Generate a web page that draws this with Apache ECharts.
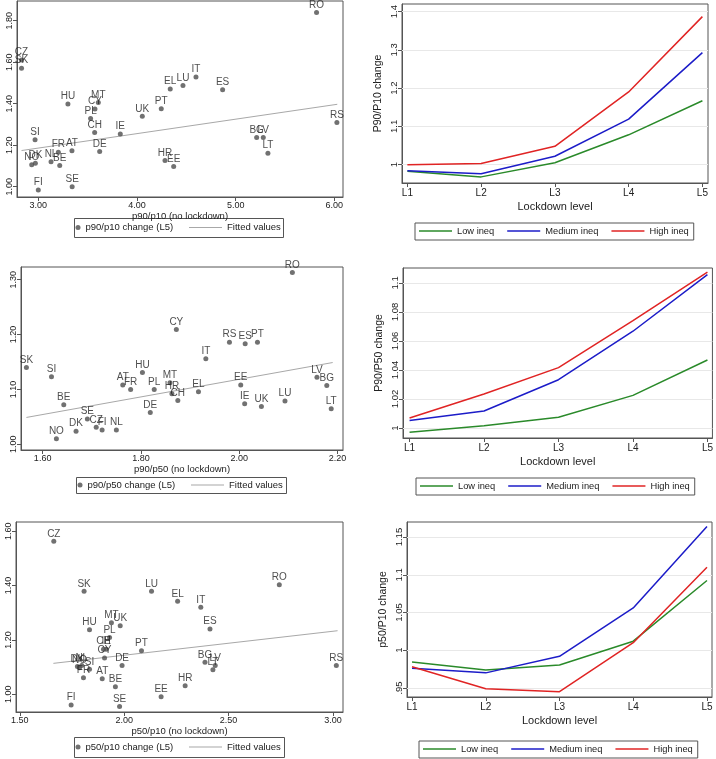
<!DOCTYPE html>
<html><head><meta charset="utf-8">
<script src="https://cdn.jsdelivr.net/npm/echarts@6/dist/echarts.min.js"></script>
<style>html,body{margin:0;padding:0;background:#fff}#c{width:716px;height:759px}</style>
</head><body><div id="c"></div>
<script>
// ---------- Panel 1: p90/p10 ----------
const codes1 = ['RO','CZ','SK','IT','LU','EL','ES','HU','MT','CY','PL','PT','UK','CH','IE','SI','FR','AT','DE','NO','DK','NL','BE','SE','FI','HR','EE','BG','LV','LT','RS'];
const base1  = [5.82,2.83,2.83,4.598,4.466,4.337,4.868,3.30,3.608,3.574,3.53,4.246,4.054,3.571,3.831,2.967,3.203,3.341,3.622,2.933,2.97,3.129,3.217,3.343,3.00,4.284,4.372,5.213,5.28,5.327,6.026];
const chg1   = [1.84,1.61,1.571,1.529,1.487,1.471,1.467,1.398,1.406,1.374,1.329,1.376,1.339,1.261,1.254,1.226,1.166,1.173,1.169,1.105,1.113,1.12,1.102,0.999,0.984,1.126,1.097,1.237,1.237,1.161,1.309];
const fitX1 = [2.83, 6.03];
const fitY1 = [1.174, 1.397];
const xTicks1 = [3,4,5,6];
const yTicks1 = [1.0,1.2,1.4,1.6,1.8];

// ---------- Panel 2: p90/p50 ----------
const codes2 = ['RO','CY','RS','ES','PT','IT','SK','SI','HU','AT','FR','PL','MT','HR','CH','EL','EE','IE','UK','LU','LV','BG','LT','BE','DE','SE','CZ','FI','NL','DK','NO'];
const base2  = [2.108,1.872,1.980,2.012,2.037,1.932,1.567,1.618,1.803,1.763,1.779,1.827,1.859,1.863,1.875,1.917,2.003,2.011,2.045,2.093,2.158,2.178,2.187,1.643,1.819,1.691,1.709,1.721,1.750,1.668,1.628];
const chg2   = [1.313,1.209,1.186,1.183,1.186,1.156,1.140,1.123,1.131,1.108,1.100,1.100,1.112,1.092,1.080,1.096,1.108,1.074,1.069,1.079,1.122,1.107,1.065,1.072,1.058,1.046,1.031,1.026,1.026,1.024,1.010];
const fitX2 = [1.567, 2.19];
const fitY2 = [1.049, 1.149];
const xTicks2 = [1.6,1.8,2.0,2.2];
const yTicks2 = [1.0,1.1,1.2,1.3];

// ---------- Panel 3: p50/p10 ----------
const codes3 = ['CZ','SK','LU','EL','IT','RO','ES','MT','UK','HU','PL','CH','IE','CY','PT','DE','DK','NO','NL','SI','FR','AT','BE','SE','FI','EE','HR','BG','LV','LT','RS'];
const base3  = [1.663,1.808,2.131,2.256,2.367,2.743,2.411,1.939,1.981,1.834,1.930,1.901,1.914,1.906,2.083,1.990,1.776,1.786,1.797,1.834,1.805,1.895,1.958,1.978,1.746,2.177,2.292,2.387,2.436,2.425,3.016];
const chg3   = [1.563,1.379,1.379,1.342,1.320,1.403,1.240,1.263,1.252,1.238,1.209,1.166,1.166,1.134,1.160,1.106,1.102,1.098,1.106,1.092,1.061,1.057,1.028,0.955,0.961,0.991,1.032,1.118,1.106,1.090,1.106];
const fitX3 = [1.661, 3.022];
const fitY3 = [1.114, 1.234];
const xTicks3 = [1.5,2.0,2.5,3.0];
const yTicks3 = [1.0,1.2,1.4,1.6];

// ---------- Right panels ----------
const levels = ['L1','L2','L3','L4','L5'];
const p9010Low  = [0.983,0.968,1.005,1.078,1.167];
const p9010Med  = [0.984,0.976,1.022,1.119,1.293];
const p9010High = [1.000,1.003,1.048,1.190,1.387];
const p9050Low  = [0.997,1.0016,1.0074,1.0225,1.0469];
const p9050Med  = [1.0051,1.0117,1.0333,1.0667,1.1057];
const p9050High = [1.0069,1.0234,1.0416,1.074,1.1074];
const p5010Low  = [0.9845,0.9739,0.9805,1.012,1.0925];
const p5010Med  = [0.976,0.970,0.992,1.056,1.164];
const p5010High = [0.978,0.949,0.945,1.010,1.110];
const yTicks4 = [1,1.1,1.2,1.3,1.4];
const yLabels4 = ['1','1.1','1.2','1.3','1.4'];
const yTicks5 = [1,1.02,1.04,1.06,1.08,1.1];
const yLabels5 = ['1','1.02','1.04','1.06','1.08','1.1'];
const yTicks6 = [0.95,1,1.05,1.1,1.15];
const yLabels6 = ['.95','1','1.05','1.1','1.15'];
const seriesNames = ['Low ineq','Medium ineq','High ineq'];
const lineColors = ['#2a8a2a','#1c1cc8','#e02424'];

const FONT = "'Liberation Sans', Arial, sans-serif";
const AX = '#555';
const grids = [], xAxes = [], yAxes = [], series = [], legends = [], graphics = [];

function scatterPanel(cfg) {
  const gi = grids.length;
  const [l,t,r,b] = cfg.box;
  grids.push({left:l, top:t, width:r-l, height:b-t, show:true, borderColor:AX, borderWidth:1, backgroundColor:'transparent'});
  xAxes.push({gridIndex:gi, type:'value', min:cfg.xr[0], max:cfg.xr[1],
    axisLine:{show:true, onZero:false, lineStyle:{color:AX}},
    axisTick:{show:true, length:4, customValues:cfg.xTicks, lineStyle:{color:AX}},
    axisLabel:{customValues:cfg.xTicks, formatter:v=>v.toFixed(2), fontSize:9, color:'#222', margin:4, fontFamily:FONT},
    splitLine:{show:false},
    name:cfg.xName, nameLocation:'middle', nameGap:13, nameTextStyle:{fontSize:9.5, color:'#222', fontFamily:FONT}});
  yAxes.push({gridIndex:gi, type:'value', min:cfg.yr[0], max:cfg.yr[1],
    axisLine:{show:true, onZero:false, lineStyle:{color:AX}},
    axisTick:{show:true, length:4, customValues:cfg.yTicks, lineStyle:{color:AX}},
    axisLabel:{customValues:cfg.yTicks, formatter:v=>v.toFixed(2), rotate:90, fontSize:9, color:'#222', margin:3, fontFamily:FONT},
    splitLine:{show:false}});
  series.push({type:'scatter', name:cfg.sName, xAxisIndex:gi, yAxisIndex:gi,
    data: cfg.codes.map((c,i)=>({name:c, value:[cfg.xs[i], cfg.ys[i]]})),
    symbolSize:5, itemStyle:{color:'#4d4d4d'}, z:3,
    label:{show:true, position:'top', distance:0, formatter:'{b}', fontSize:10, color:'#222', fontFamily:FONT}});
  series.push({type:'line', name:'Fitted values', xAxisIndex:gi, yAxisIndex:gi,
    data: cfg.fitX.map((x,i)=>[x, cfg.fitY[i]]), symbol:'none',
    lineStyle:{color:'#a8a8a8', width:1}, itemStyle:{color:'#a8a8a8'}, z:2});
  const [lx,ly,lw,lh] = cfg.leg;
  const cy = ly + lh/2;
  legends.push({data:[{name:cfg.sName, icon:'circle'}], left:lx+1.5, top:cy-6, itemWidth:5, itemHeight:5, padding:0,
    selectedMode:false, textStyle:{fontSize:9.5, color:'#222', fontFamily:FONT, lineHeight:12}});
  legends.push({data:[{name:'Fitted values', icon:'rect'}], left:lx+115, top:cy-6, itemWidth:33, itemHeight:1, padding:0,
    selectedMode:false, textStyle:{fontSize:9.5, color:'#222', fontFamily:FONT, lineHeight:12}});
  graphics.push({type:'rect', shape:{x:lx+0.5, y:ly+0.5, width:lw, height:lh}, style:{fill:'none', stroke:AX, lineWidth:1}});
}

function linePanel(cfg) {
  const gi = grids.length;
  const [l,t,r,b] = cfg.box;
  grids.push({left:l, top:t, width:r-l, height:b-t, show:true, borderColor:AX, borderWidth:1, backgroundColor:'transparent'});
  const xt = levels.map((s,i)=>i+1);
  xAxes.push({gridIndex:gi, type:'value', min:cfg.xr[0], max:cfg.xr[1],
    axisLine:{show:true, onZero:false, lineStyle:{color:AX}},
    axisTick:{show:true, length:4, customValues:xt, lineStyle:{color:AX}},
    axisLabel:{customValues:xt, formatter:v=>levels[Math.round(v)-1], fontSize:10, color:'#222', margin:5, fontFamily:FONT},
    splitLine:{show:false},
    name:'Lockdown level', nameLocation:'middle', nameGap:18, nameTextStyle:{fontSize:11, color:'#222', fontFamily:FONT}});
  yAxes.push({gridIndex:gi, type:'value', min:cfg.yr[0], max:cfg.yr[1],
    axisLine:{show:true, onZero:false, lineStyle:{color:AX}},
    axisTick:{show:true, length:4, customValues:cfg.yTicks, lineStyle:{color:AX}},
    axisLabel:{customValues:cfg.yTicks, rotate:90, fontSize:9.5, color:'#222', margin:3, fontFamily:FONT,
      formatter:v=>{const k=cfg.yTicks.findIndex(t=>Math.abs(t-v)<1e-9); return k>=0?cfg.yLabels[k]:'';}},
    splitLine:{show:false},
    name:cfg.yName, nameLocation:'middle', nameRotate:90, nameGap:18, nameTextStyle:{fontSize:10.5, color:'#222', fontFamily:FONT}});
  cfg.vals.forEach((vals,k)=>{
    const s = {type:'line', name:seriesNames[k], xAxisIndex:gi, yAxisIndex:gi,
      data: vals.map((v,i)=>[i+1, v]), symbol:'none',
      lineStyle:{color:lineColors[k], width:1.5}, itemStyle:{color:lineColors[k]}, z:3};
    if (k===0) s.markLine = {silent:true, symbol:['none','none'], z:1, label:{show:false},
      lineStyle:{color:'#e8e8e8', type:'solid', width:1}, emphasis:{disabled:true},
      data: cfg.yTicks.map(v=>({yAxis:v}))};
    series.push(s);
  });
  const [lx,ly] = cfg.leg;
  legends.push({data:seriesNames.map(n=>({name:n, icon:'rect'})), left:lx, top:ly, itemWidth:33, itemHeight:1.6, itemGap:13,
    padding:[2,5,3,4], borderColor:AX, borderWidth:1, selectedMode:false,
    textStyle:{fontSize:9.3, color:'#222', fontFamily:FONT, lineHeight:12}});
}

scatterPanel({box:[17,1,343,197], xr:[2.784,6.088], yr:[0.950,1.895], xTicks:xTicks1, yTicks:yTicks1,
  xName:'p90/p10 (no lockdown)', sName:'p90/p10 change (L5)', codes:codes1, xs:base1, ys:chg1, fitX:fitX1, fitY:fitY1,
  leg:[74,218,209,19]});
scatterPanel({box:[21,267,343,450], xr:[1.556,2.211], yr:[0.9897,1.323], xTicks:xTicks2, yTicks:yTicks2,
  xName:'p90/p50 (no lockdown)', sName:'p90/p50 change (L5)', codes:codes2, xs:base2, ys:chg2, fitX:fitX2, fitY:fitY2,
  leg:[76,477,210,16]});
scatterPanel({box:[16,522,343,712], xr:[1.482,3.048], yr:[0.935,1.634], xTicks:xTicks3, yTicks:yTicks3,
  xName:'p50/p10 (no lockdown)', sName:'p50/p10 change (L5)', codes:codes3, xs:base3, ys:chg3, fitX:fitX3, fitY:fitY3,
  leg:[74,737,210,20]});

linePanel({box:[402,4,708,183], xr:[0.927,5.076], yr:[0.952,1.42], yTicks:yTicks4, yLabels:yLabels4,
  yName:'P90/P10 change', vals:[p9010Low,p9010Med,p9010High], leg:[415,223]});
linePanel({box:[403,268,714,438], xr:[0.912,5.067], yr:[0.9931,1.1103], yTicks:yTicks5, yLabels:yLabels5,
  yName:'P90/P50 change', vals:[p9050Low,p9050Med,p9050High], leg:[416,478]});
linePanel({box:[407,522,712,697], xr:[0.932,5.068], yr:[0.938,1.170], yTicks:yTicks6, yLabels:yLabels6,
  yName:'p50/P10 change', vals:[p5010Low,p5010Med,p5010High], leg:[419,741]});

const chart = echarts.init(document.getElementById('c'), null, {renderer:'canvas'});
chart.setOption({
  animation:false, backgroundColor:'#fff',
  textStyle:{fontFamily:FONT},
  grid:grids, xAxis:xAxes, yAxis:yAxes, series:series, legend:legends,
  graphic:{elements:graphics}
});
</script></body></html>
